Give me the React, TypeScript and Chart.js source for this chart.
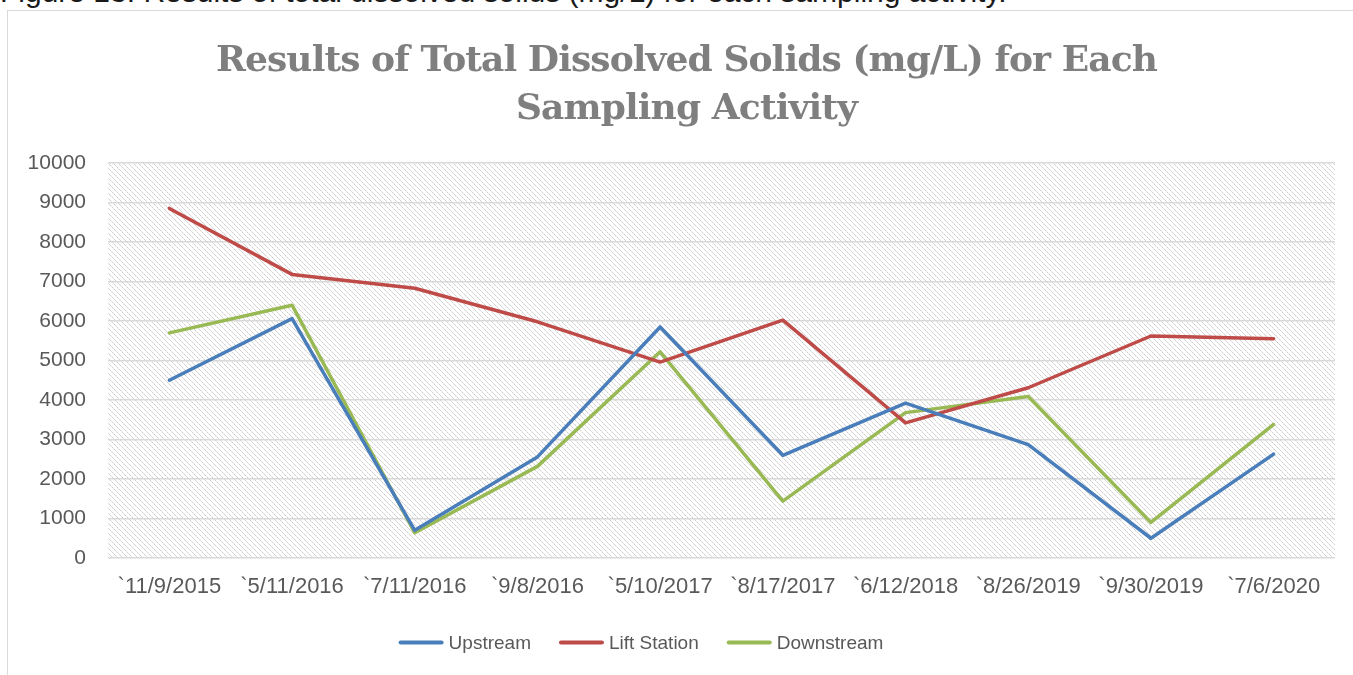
import React, { useEffect, useRef } from "react";
import { Chart, registerables } from "chart.js";

Chart.register(...registerables);

// ---------- data ----------
const categories = [
  "`11/9/2015",
  "`5/11/2016",
  "`7/11/2016",
  "`9/8/2016",
  "`5/10/2017",
  "`8/17/2017",
  "`6/12/2018",
  "`8/26/2019",
  "`9/30/2019",
  "`7/6/2020",
];
const upstream = [4500, 6060, 700, 2560, 5850, 2600, 3920, 2870, 500, 2630];
const liftStation = [8850, 7180, 6830, 5980, 4960, 6020, 3420, 4310, 5620, 5550];
const downstream = [5700, 6400, 640, 2320, 5220, 1440, 3680, 4090, 900, 3380];
const seriesNames = ["Upstream", "Lift Station", "Downstream"];
const yMin = 0;
const yMax = 10000;
const yStep = 1000;
const titleLines = ["Results of Total Dissolved Solids (mg/L) for Each", "Sampling Activity"];
const caption = "Figure 13: Results of total dissolved solids (mg/L) for each sampling activity.";

// ---------- styles ----------
const COLORS = ["#4a7ebb", "#be4b48", "#98b954"];
const TICK_COLOR = "#595959";
const GRID_COLOR = "#d9d9d9";
const TITLE_COLOR = "#7f7f7f";
const TITLE_CENTER_X = 686.5;
const TITLE_BASELINES = [70.7, 118.7];
const TITLE_WIDTHS = [941, 341];
const LEGEND_CENTER_X = 641;
const LEGEND_Y = 642.5;

export default function App() {
  const canvasRef = useRef<HTMLCanvasElement | null>(null);

  useEffect(() => {
    const canvas = canvasRef.current;
    if (!canvas) return;

    // light diagonal hatch pattern
    const T = 5;
    const tile = document.createElement("canvas");
    tile.width = T;
    tile.height = T;
    const tctx = tile.getContext("2d")!;
    tctx.fillStyle = "#ffffff";
    tctx.fillRect(0, 0, T, T);
    for (let i = 0; i < T; i++) {
      tctx.fillStyle = i % 2 === 0 ? "#cecece" : "#e0e0e0";
      tctx.fillRect(i, i, 1, 1);
    }

    const hatchPlugin = {
      id: "hatch",
      beforeDraw(chart: any) {
        const { ctx, chartArea } = chart;
        const pat = ctx.createPattern(tile, "repeat");
        ctx.save();
        ctx.fillStyle = pat;
        ctx.fillRect(chartArea.left, chartArea.top, chartArea.right - chartArea.left, chartArea.bottom - chartArea.top);
        ctx.restore();
      },
    };

    const titlePlugin = {
      id: "customTitle",
      afterDraw(chart: any) {
        const ctx = chart.ctx as CanvasRenderingContext2D;
        ctx.save();
        ctx.font = 'bold 36px "DejaVu Serif"';
        ctx.fillStyle = TITLE_COLOR;
        ctx.textAlign = "left";
        ctx.textBaseline = "alphabetic";
        titleLines.forEach((line, i) => {
          (ctx as any).letterSpacing = "0px";
          const w = ctx.measureText(line).width;
          const target = TITLE_WIDTHS[i];
          const ls = (target - w) / line.length;
          (ctx as any).letterSpacing = ls + "px";
          ctx.fillText(line, TITLE_CENTER_X - target / 2, TITLE_BASELINES[i]);
        });
        ctx.restore();
      },
    };

    const legendPlugin = {
      id: "customLegend",
      afterDraw(chart: any) {
        const ctx = chart.ctx as CanvasRenderingContext2D;
        const datasets = chart.data.datasets;
        ctx.save();
        ctx.font = '19px "Liberation Sans"';
        const lineLen = 45;
        const gap = 5;
        const spacing = 28;
        const widths = datasets.map((d: any) => lineLen + gap + ctx.measureText(d.label).width);
        const total = widths.reduce((a: number, b: number) => a + b, 0) + spacing * (datasets.length - 1);
        let x = LEGEND_CENTER_X - total / 2;
        datasets.forEach((d: any, i: number) => {
          ctx.strokeStyle = d.borderColor;
          ctx.lineWidth = 4;
          ctx.lineCap = "round";
          ctx.beginPath();
          ctx.moveTo(x + 2, LEGEND_Y);
          ctx.lineTo(x + lineLen - 2, LEGEND_Y);
          ctx.stroke();
          ctx.fillStyle = TICK_COLOR;
          ctx.textAlign = "left";
          ctx.textBaseline = "middle";
          ctx.fillText(d.label, x + lineLen + gap, LEGEND_Y + 1);
          x += widths[i] + spacing;
        });
        ctx.restore();
      },
    };

    const seriesData = [upstream, liftStation, downstream];
    const chart = new Chart(canvas, {
      type: "line",
      data: {
        labels: categories,
        datasets: seriesData.map((vals, i) => ({
          label: seriesNames[i],
          data: vals,
          borderColor: COLORS[i],
          backgroundColor: COLORS[i],
          borderWidth: 3.5,
          pointRadius: 0,
          pointHoverRadius: 0,
          tension: 0,
          fill: false,
          borderCapStyle: "round" as const,
          borderJoinStyle: "round" as const,
        })),
      },
      options: {
        responsive: false,
        devicePixelRatio: 1,
        animation: false,
        layout: { padding: { top: 163, right: 18, bottom: 0, left: 0 } },
        plugins: {
          legend: { display: false },
          title: { display: false },
          tooltip: { enabled: false },
        },
        scales: {
          x: {
            offset: true,
            grid: { display: false, drawTicks: false },
            border: { display: false },
            ticks: {
              color: TICK_COLOR,
              font: { family: "Liberation Sans", size: 22 },
              padding: 16,
              maxRotation: 0,
              minRotation: 0,
              autoSkip: false,
            },
            afterFit: (scale: any) => {
              scale.height = 117;
            },
          },
          y: {
            min: yMin,
            max: yMax,
            grid: { color: GRID_COLOR, lineWidth: 1.5, drawTicks: false },
            border: { display: false },
            ticks: {
              stepSize: yStep,
              color: TICK_COLOR,
              font: { family: "Liberation Sans", size: 21 },
              padding: 22,
              callback: (v: any) => String(v),
            },
            afterFit: (scale: any) => {
              scale.width = 108;
            },
          },
        },
      },
      plugins: [hatchPlugin, titlePlugin, legendPlugin],
    });

    return () => {
      chart.destroy();
    };
  }, []);

  return (
    <div
      style={{
        position: "fixed",
        left: 0,
        top: 0,
        width: 1353,
        height: 675,
        overflow: "hidden",
        background: "#ffffff",
      }}
    >
      <div
        style={{
          position: "absolute",
          left: 0,
          top: -23,
          font: '30px/30px "Liberation Sans"',
          color: "#1a1a1a",
          whiteSpace: "nowrap",
        }}
      >
        {caption}
      </div>
      <div
        style={{
          position: "absolute",
          left: 7,
          top: 10,
          width: 2000,
          height: 1000,
          border: "1px solid #d9d9d9",
        }}
      />
      <canvas
        ref={canvasRef}
        width={1353}
        height={675}
        style={{ position: "absolute", left: 0, top: 0, width: 1353, height: 675, display: "block" }}
      />
    </div>
  );
}
